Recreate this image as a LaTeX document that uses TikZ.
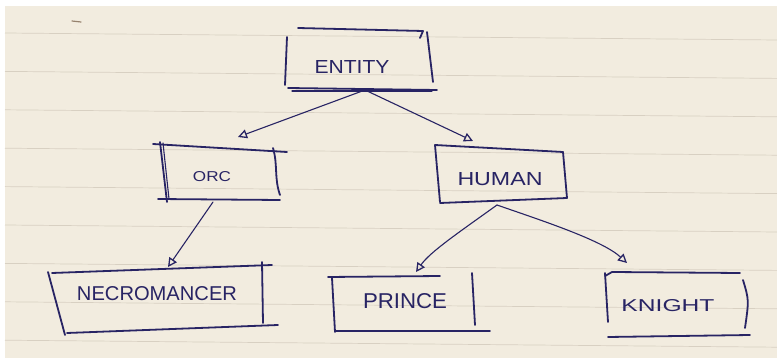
\documentclass[tikz,border=0pt]{standalone}
\usepackage{fontspec}
\setsansfont{Liberation Sans}
\usetikzlibrary{arrows.meta}
\definecolor{paper}{RGB}{242,236,223}
\definecolor{ruling}{RGB}{216,208,194}
\definecolor{ink}{RGB}{40,36,100}
\definecolor{smudge}{RGB}{150,130,110}

\begin{document}
\begin{tikzpicture}[x=1pt,y=-1pt,
  pen/.style={draw=ink,line width=1.8pt,line cap=round,line join=round},
  thinpen/.style={draw=ink,line width=1.1pt,line cap=round},
  link/.style={draw=ink,line width=1.1pt,line cap=round,
    -{Triangle[open,length=9pt,width=9pt,line width=1.3pt]}},
  caption/.style={text=ink,inner sep=0pt,font=\sffamily}]

% notebook page
\useasboundingbox (0,0) rectangle (777,358);
\fill[white] (0,0) rectangle (777,358);
\fill[paper] (5,6) rectangle (777,358);
\foreach \k in {0,...,8}
  \draw[ruling,line width=0.7pt] (5,{33+38.4*\k}) -- (777,{40+38.4*\k});
\draw[smudge,line width=1.2pt,line cap=round] (72,21) -- (81,22);

% class names
\node[caption] (entity) at (352,67)  {\resizebox{75pt}{13pt}{ENTITY}};
\node[caption] (orc)    at (212,177) {\resizebox{38pt}{10pt}{ORC}};
\node[caption] (human)  at (500,179) {\resizebox{85pt}{13pt}{HUMAN}};
\node[caption] (necro)  at (157,294) {\resizebox{160pt}{14pt}{NECROMANCER}};
\node[caption] (prince) at (405,301) {\resizebox{84pt}{15pt}{PRINCE}};
\node[caption] (knight) at (668,306) {\resizebox{93pt}{12pt}{KNIGHT}};

% hand-drawn boxes
% Entity
\draw[pen] (298,28) -- (423,31) -- (420,38);
\draw[pen] (427,32) -- (433,82);
\draw[pen] (287,37) -- (285,85);
\draw[pen] (288,88) -- (437,90);
\draw[thinpen] (292,91) -- (432,91);
% Orc
\draw[pen] (153,144) -- (287,152);
\draw[pen] (160,142) -- (167,202);
\draw[thinpen] (163,143) -- (169,199);
\draw[pen] (273,148) .. controls (278,165) and (274,178) .. (280,195);
\draw[pen] (158,199) -- (280,200);
% Human
\draw[pen] (435,145) -- (563,152);
\draw[pen] (435,145) -- (440,202);
\draw[pen] (563,152) -- (567,198);
\draw[pen] (440,203) -- (567,198);
% Necromancer
\draw[pen] (52,273) -- (272,265);
\draw[pen] (48,272) -- (65,335);
\draw[pen] (262,262) -- (263,323);
\draw[pen] (67,333) -- (278,325);
% Prince
\draw[pen] (328,277) -- (440,276);
\draw[pen] (332,278) -- (335,332);
\draw[pen] (472,273) -- (475,325);
\draw[pen] (335,331) -- (490,331);
% Knight
\draw[pen] (605,276) -- (612,272) -- (740,273);
\draw[pen] (605,273) -- (608,322);
\draw[pen] (743,280) .. controls (749,300) .. (745,328);
\draw[pen] (608,337) -- (750,335);

% connector end points
\coordinate (entity-foot) at (365,90);
\coordinate (orc-head)    at (238,137);
\coordinate (human-head)  at (473,141);
\coordinate (orc-foot)    at (213,202);
\coordinate (necro-head)  at (168,267);
\coordinate (human-foot)  at (497,205);
\coordinate (prince-head) at (416,272);
\coordinate (knight-head) at (627,263);

% inheritance links
\draw[link] (entity-foot) -- (orc-head);
\draw[link] (entity-foot) -- (human-head);
\draw[link] (orc-foot) -- (necro-head);
\draw[link] (human-foot) .. controls (458,233) and (430,252) .. (prince-head);
\draw[link] (human-foot) .. controls (540,220) and (602,240) .. (knight-head);
\end{tikzpicture}
\end{document}
